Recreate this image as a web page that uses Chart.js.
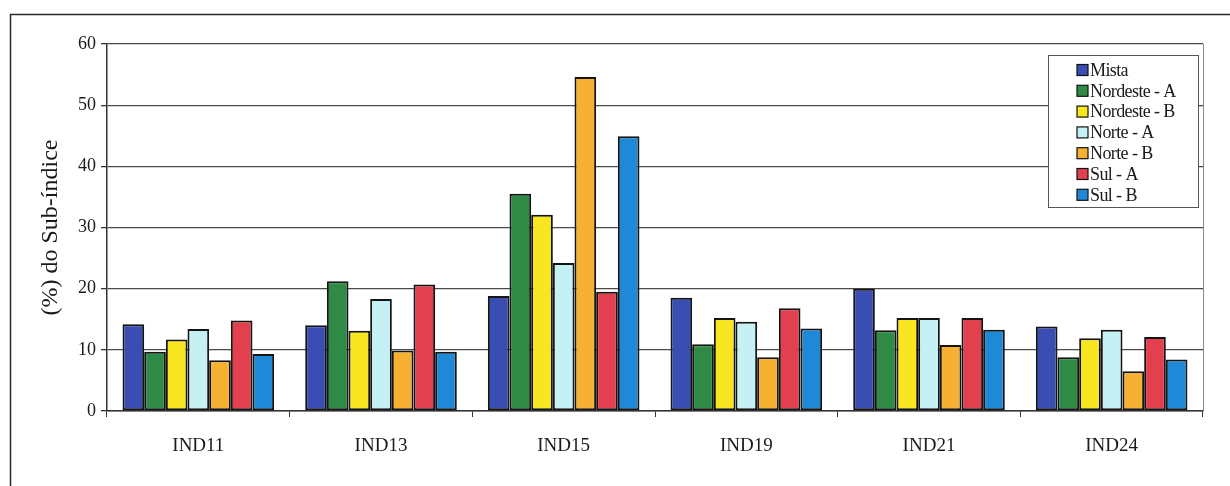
<!DOCTYPE html>
<html>
<head>
<meta charset="utf-8">
<script src="https://cdn.jsdelivr.net/npm/chart.js@4/dist/chart.umd.min.js"></script>
<style>
  html, body { margin: 0; padding: 0; background: #ffffff; }
  #wrap { width: 1230px; height: 486px; position: relative; }
</style>
</head>
<body>
<div id="wrap"><canvas id="c" width="1230" height="486"></canvas></div>
<script>
// Indicators on the category axis
const categories = ['IND11', 'IND13', 'IND15', 'IND19', 'IND21', 'IND24'];

// Share of the sub-index (%) per region group
const seriesNames = ['Mista', 'Nordeste - A', 'Nordeste - B', 'Norte - A', 'Norte - B', 'Sul - A', 'Sul - B'];
const mista       = [14.2, 14.0, 18.8, 18.5, 20.0, 13.8];
const nordesteA   = [9.7, 21.2, 35.5, 10.9, 13.2, 8.8];
const nordesteB   = [11.7, 13.1, 32.1, 15.2, 15.2, 11.9];
const norteA      = [13.4, 18.3, 24.2, 14.6, 15.2, 13.3];
const norteB      = [8.3, 9.9, 54.6, 8.8, 10.8, 6.5];
const sulA        = [14.8, 20.7, 19.5, 16.8, 15.2, 12.1];
const sulB        = [9.3, 9.7, 44.9, 13.5, 13.3, 8.4];
const seriesValues = [mista, nordesteA, nordesteB, norteA, norteB, sulA, sulB];
const seriesColors = ['#3a4db2', '#2f8a45', '#f8e620', '#c6f1f4', '#f6b133', '#e2404f', '#1f89d8'];

const yTicks = [0, 10, 20, 30, 40, 50, 60];

const SERIF = "'Liberation Serif', 'Times New Roman', serif";

// Frame around the whole figure plus the right edge of the plot area
const framePlugin = {
  id: 'frame',
  beforeDraw(chart) {
    const ctx = chart.ctx;
    ctx.save();
    ctx.fillStyle = '#ffffff';
    ctx.fillRect(0, 0, chart.width, chart.height);
    ctx.strokeStyle = '#2a2a2a';
    ctx.lineWidth = 1.5;
    ctx.beginPath();
    ctx.moveTo(10.5, chart.height + 2);
    ctx.lineTo(10.5, 14.5);
    ctx.lineTo(chart.width + 2, 14.5);
    ctx.stroke();
    ctx.restore();
  },
  afterDatasetsDraw(chart) {
    const a = chart.chartArea;
    const ctx = chart.ctx;
    ctx.save();
    ctx.strokeStyle = '#8a8a8a';
    ctx.lineWidth = 1;
    ctx.beginPath();
    ctx.moveTo(Math.round(a.right) + 0.5, a.top);
    ctx.lineTo(Math.round(a.right) + 0.5, a.bottom);
    ctx.stroke();
    ctx.restore();
  }
};

// Boxed legend placed inside the plot area, top right
const boxLegendPlugin = {
  id: 'boxLegend',
  afterDraw(chart, args, opts) {
    const ctx = chart.ctx;
    const ds = chart.data.datasets;
    ctx.save();
    ctx.fillStyle = '#ffffff';
    ctx.fillRect(opts.x, opts.y, opts.w, opts.h);
    ctx.strokeStyle = '#555555';
    ctx.lineWidth = 1;
    ctx.strokeRect(opts.x + 0.5, opts.y + 0.5, opts.w, opts.h);
    ctx.font = opts.font;
    if ('letterSpacing' in ctx) ctx.letterSpacing = opts.letterSpacing;
    ctx.textBaseline = 'middle';
    ctx.textAlign = 'left';
    ds.forEach((d, i) => {
      const cy = opts.y + opts.first + i * opts.step;
      const sx = opts.x + opts.swatchX;
      ctx.fillStyle = d.backgroundColor;
      ctx.fillRect(sx, cy - opts.swatch / 2, opts.swatch, opts.swatch);
      ctx.strokeStyle = '#111111';
      ctx.lineWidth = 1.2;
      ctx.strokeRect(sx, cy - opts.swatch / 2, opts.swatch, opts.swatch);
      ctx.fillStyle = '#1a1a1a';
      ctx.fillText(d.label, sx + opts.swatch + 2, cy + 1);
    });
    ctx.restore();
  }
};

const datasets = seriesNames.map((name, i) => ({
  label: name,
  data: seriesValues[i],
  backgroundColor: seriesColors[i],
  borderColor: '#141414',
  borderWidth: 2,
  borderSkipped: false,
  categoryPercentage: 0.83,
  barPercentage: 1.0
}));

new Chart(document.getElementById('c'), {
  type: 'bar',
  data: { labels: categories, datasets },
  plugins: [framePlugin, boxLegendPlugin],
  options: {
    responsive: false,
    animation: false,
    devicePixelRatio: 1,
    layout: { padding: { top: 44, right: 27, bottom: 0, left: 0 } },
    plugins: {
      legend: { display: false },
      tooltip: { enabled: false },
      boxLegend: {
        x: 1048, y: 55, w: 150, h: 152,
        first: 15, step: 20.8, swatchX: 29, swatch: 11,
        font: "18px " + SERIF,
        letterSpacing: '-0.6px'
      }
    },
    scales: {
      x: {
        afterFit(scale) { scale.height = 75; },
        grid: {
          offset: true,
          drawOnChartArea: false,
          drawTicks: true,
          tickLength: 6,
          color: '#333333',
          lineWidth: 1
        },
        border: { display: true, color: '#333333', width: 1.5 },
        ticks: {
          color: '#1a1a1a',
          padding: 18,
          font: { family: SERIF, size: 19 }
        }
      },
      y: {
        min: 0,
        max: 60,
        afterFit(scale) { scale.width = 107; },
        afterBuildTicks(scale) { scale.ticks = yTicks.map(v => ({ value: v })); },
        grid: {
          color: '#4a4a4a',
          lineWidth: 1.3,
          drawTicks: true,
          tickLength: 6,
          tickColor: '#333333'
        },
        border: { display: true, color: '#333333', width: 1.5 },
        ticks: {
          color: '#1a1a1a',
          padding: 5,
          font: { family: SERIF, size: 18 }
        },
        title: {
          display: true,
          text: '(%) do Sub-índice',
          color: '#1a1a1a',
          font: { family: SERIF, size: 24 },
          padding: { top: 36, bottom: 0 }
        }
      }
    }
  }
});
</script>
</body>
</html>
